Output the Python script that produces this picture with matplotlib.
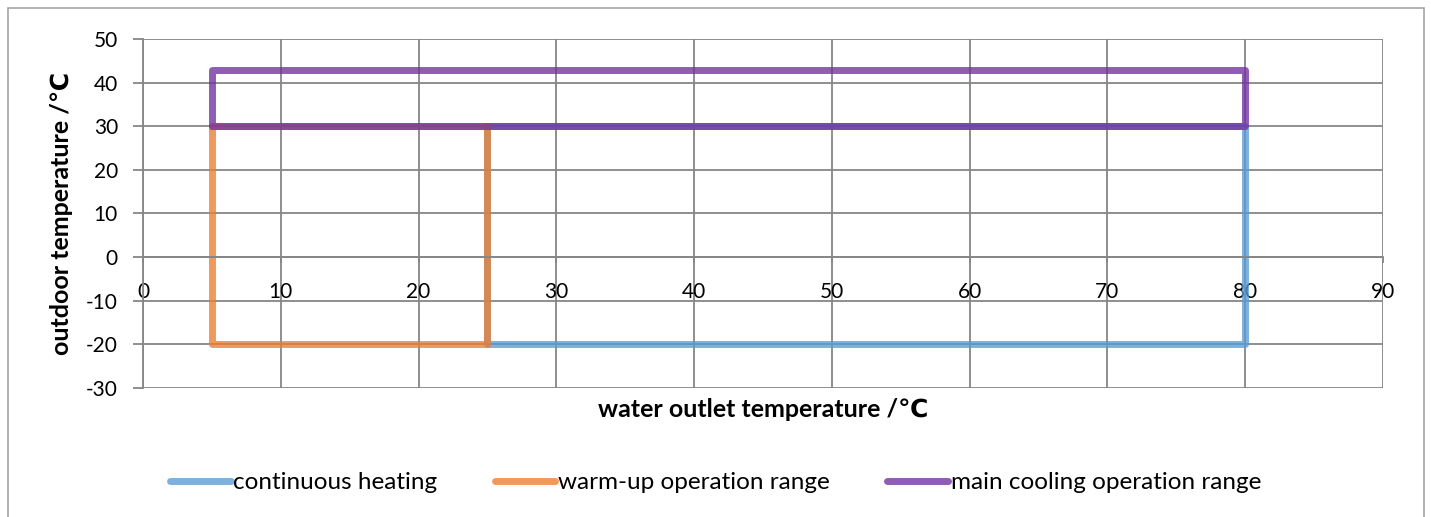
#!/usr/bin/env python3
"""
Operating ranges: water outlet vs outdoor temperature
"""

import matplotlib.pyplot as plt
from matplotlib.patches import Rectangle

plt.rcParams["font.family"] = ["Lato", "DejaVu Sans"]
plt.rcParams["axes.unicode_minus"] = False

# series outlines (x = water outlet temp, y = outdoor temp)
heat_x = [25, 25, 80, 80, 25]
heat_y = [30, -20, -20, 30, 30]
warm_x = [5, 5, 25, 25, 5]
warm_y = [30, -20, -20, 30, 30]
cool_x = [5, 5, 80, 80, 5]
cool_y = [30, 43, 43, 30, 30]
labels = ["continuous heating", "warm-up operation range", "main cooling operation range"]
xticks = list(range(0, 100, 10))
yticks = list(range(-30, 60, 10))

fig = plt.figure(figsize=(14.31, 5.17), dpi=100)
ax = fig.add_axes([0.0999, 0.2495, 0.8666, 0.6751])

grid = "#868686"
kw = dict(lw=5, alpha=0.78, solid_capstyle="round", solid_joinstyle="round")
ax.plot(heat_x, heat_y, color="#5b9bd5", label=labels[0], **kw)
ax.plot(warm_x, warm_y, color="#ed7d31", label=labels[1], **kw)
ax.plot(cool_x, cool_y, color="#7030a0", label=labels[2], **kw)

ax.set_xlim(0, 90)
ax.set_ylim(-30, 50)
ax.set_xticks(xticks)
ax.set_yticks(yticks)
ax.grid(True, color=grid, lw=1.3)
ax.set_axisbelow(True)

for s in ["top", "right"]:
    ax.spines[s].set_visible(False)
ax.spines["bottom"].set_position(("data", 0))
ax.spines["bottom"].set_color(grid)
ax.spines["left"].set_color(grid)
ax.spines["bottom"].set_linewidth(1.3)
ax.spines["left"].set_linewidth(1.3)

ax.tick_params(axis="y", direction="out", length=7, width=1.3, color=grid,
               pad=11, labelsize=15)
ax.tick_params(axis="x", direction="out", length=4, width=1.3, color=grid,
               pad=14, labelsize=15)

fig.text(0.533, 0.207, "water outlet temperature /℃", ha="center", va="center",
         fontsize=18, fontweight="bold")
fig.text(0.043, 0.588, "outdoor temperature /℃", ha="center", va="center",
         rotation=90, fontsize=18, fontweight="bold")

fig.legend(loc="center", bbox_to_anchor=(0.5, 0.066), ncol=3, frameon=False,
           fontsize=17.5, handlelength=2.5, handletextpad=0.12, columnspacing=2.35)

fig.patches.append(Rectangle((8 / 1431, -0.02), 1416 / 1431, 1 - 8 / 517 + 0.02,
                             transform=fig.transFigure, fill=False,
                             edgecolor="#a6a6a6", lw=1.2))

fig.savefig("out.png", dpi=100)
